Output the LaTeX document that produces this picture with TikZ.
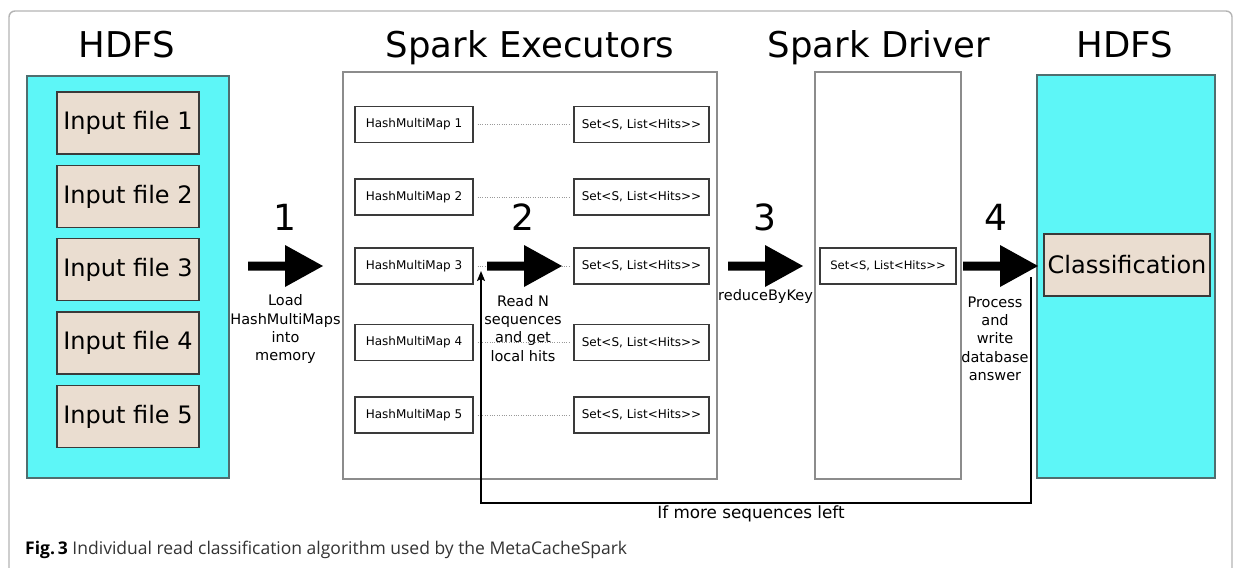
\documentclass[tikz,border=0pt]{standalone}
\usepackage{fontspec}
\usepackage{graphicx}
\setmainfont{DejaVu Sans}
\newfontfamily\capfont{Open Sans}
\usetikzlibrary{arrows.meta}

\definecolor{hdfscyan}{HTML}{5DF6F7}
\definecolor{hdfsedge}{HTML}{4F6E6F}
\definecolor{filebeige}{HTML}{EADDD0}
\definecolor{fileedge}{HTML}{3A3A3A}
\definecolor{paneledge}{HTML}{8C8C8C}
\definecolor{frameedge}{HTML}{B4B4B4}
\definecolor{capgray}{HTML}{333333}

\newcommand{\fs}[2]{\fontsize{#1}{#2}\selectfont}

\tikzset{
  hdfsbox/.style={draw=hdfsedge, fill=hdfscyan, line width=1.3pt, inner sep=0pt},
  filebox/.style={draw=fileedge, fill=filebeige, line width=1.2pt,
    minimum width=142pt, minimum height=62pt, inner sep=0pt, font=\fs{24}{28}},
  panel/.style={draw=paneledge, fill=white, line width=1.3pt, inner sep=0pt},
  mapbox/.style={draw=fileedge, fill=white, line width=1.1pt,
    minimum height=36pt, inner sep=0pt, font=\fs{12}{14}},
  title/.style={anchor=base, font=\fs{35.5}{40}},
  stepnum/.style={anchor=base, font=\fs{36}{40}},
  steplabel/.style={anchor=north, align=center, inner sep=0pt, font=\fs{14.5}{18.3}},
  link/.style={draw=gray!80, line width=0.8pt, dash pattern=on 1pt off 1.4pt},
  loopline/.style={draw=black, line width=1.8pt, line join=miter,
    -{Stealth[length=10pt, width=8pt, inset=2pt]}},
  bigarrow/.pic={\fill[black] (0,-4.5) -- (37,-4.5) -- (37,-21) -- (75,0)
    -- (37,21) -- (37,4.5) -- (0,4.5) -- cycle;}
}

\begin{document}
\begin{tikzpicture}[x=1pt, y=-1pt]
  \path[use as bounding box] (0,0) rectangle (1238,567);
  \clip (0,0) rectangle (1238,567);
  \fill[white] (0,0) rectangle (1238,567);

  % figure frame, open at the bottom
  \draw[frameedge, line width=1.4pt, rounded corners=6pt]
    (9,600) -- (9,11) -- (1232,11) -- (1232,600);

  % column titles
  \node[title] (tHdfsIn)  at (127,58)  {HDFS};
  \node[title] (tExec)    at (530,58)  {Spark Executors};
  \node[title] (tDriver)  at (879,58)  {Spark Driver};
  \node[title] (tHdfsOut) at (1125,58) {HDFS};

  % input HDFS with its files
  \node[hdfsbox, minimum width=202pt, minimum height=402pt] (hdfsIn) at (128,277) {};
  \node[filebox] (f1) at (128,123)   {Input file 1};
  \node[filebox] (f2) at (128,196.5) {Input file 2};
  \node[filebox] (f3) at (128,269.5) {Input file 3};
  \node[filebox] (f4) at (128,343)   {Input file 4};
  \node[filebox] (f5) at (128,416.5) {Input file 5};

  % executors
  \node[panel, minimum width=374pt, minimum height=407pt] (exec) at (530,275.5) {};
  \foreach \i/\y in {1/124.5, 2/197, 3/266, 4/342.5, 5/415} {
    \node[mapbox, minimum width=118pt] (hmm\i) at (414,\y) {HashMultiMap \i};
    \node[mapbox, minimum width=135pt] (set\i) at (641.5,\y) {Set<S, List<Hits>{}>};
    \path[link] (hmm\i.east) ++(4,0) -- ([xshift=-4pt]set\i.west);
  }

  % driver
  \node[panel, minimum width=146pt, minimum height=407pt] (driver) at (888,275.5) {};
  \node[mapbox, minimum width=136pt, font=\fs{11.6}{14}] (dset) at (888,266) {Set<S, List<Hits>{}>};

  % output HDFS
  \node[hdfsbox, minimum width=178pt, minimum height=403pt] (hdfsOut) at (1126,276.5) {};
  \node[filebox, minimum width=166pt] (cls) at (1127,265) {Classification};

  % feedback loop back to the executors
  \coordinate (loopFrom) at (1031,277);
  \coordinate (loopTo)   at (481,271);
  \draw[loopline] (loopFrom) |- (481,503) -- (loopTo);
  \node[anchor=base, font=\fs{16.8}{20}] (loopLbl) at (751,518) {If more sequences left};

  % step arrows
  \pic at (248,266) {bigarrow};
  \pic at (487,266) {bigarrow};
  \pic at (728,266) {bigarrow};
  \pic at (963,266) {bigarrow};

  \node[stepnum] (n1) at (285,230) {1};
  \node[stepnum] (n2) at (523,230) {2};
  \node[stepnum] (n3) at (765,230) {3};
  \node[stepnum] (n4) at (996,230) {4};

  \node[steplabel] (l1) at (285.5,294.7) {Load\\HashMultiMaps\\into\\memory};
  \node[steplabel] (l2) at (523,295)     {Read N\\sequences\\and get\\local hits};
  \node[steplabel] (l3) at (765.5,289.7) {reduceByKey};
  \node[steplabel] (l4) at (995,296.4)   {Process\\and\\write\\database\\answer};

  % caption
  \node[anchor=base west, inner sep=0pt, text=capgray, font=\capfont\fs{17.5}{22}] (cap) at (25,554)
    {\textcolor{black}{\bfseries Fig.\,3} Individual read classification algorithm used by the MetaCacheSpark};
\end{tikzpicture}
\end{document}
